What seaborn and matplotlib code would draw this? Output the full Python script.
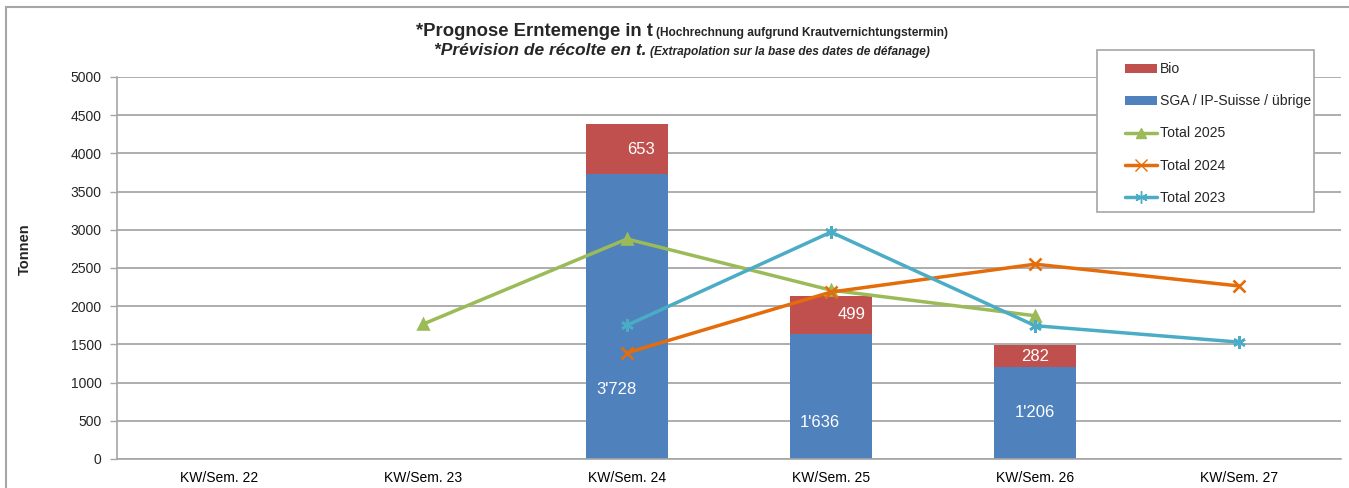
import numpy as np
import pandas as pd
import matplotlib
matplotlib.use("Agg")
import matplotlib.pyplot as plt
from matplotlib.lines import Line2D
from matplotlib.patches import Patch, Rectangle
import seaborn as sns

wochen = ["KW/Sem. 22", "KW/Sem. 23", "KW/Sem. 24", "KW/Sem. 25", "KW/Sem. 26", "KW/Sem. 27"]
sga = [np.nan, np.nan, 3728, 1636, 1206, np.nan]
bio = [np.nan, np.nan, 653, 499, 282, np.nan]
total_2025 = [np.nan, 1765, 2880, 2210, 1875, np.nan]
total_2024 = [np.nan, np.nan, 1390, 2185, 2550, 2265]
total_2023 = [np.nan, np.nan, 1750, 2970, 1745, 1530]
sga_labels = ["", "", "3'728", "1'636", "1'206", ""]
bio_labels = ["", "", "653", "499", "282", ""]

ROT = "#C0504D"
BLAU = "#4F81BD"
GRUEN = "#9BBB59"
ORANGE = "#E46C0A"
TUERKIS = "#4BACC6"
GRAU = "#A6A6A6"

sns.set_theme(style="white")
plt.rcParams["font.family"] = ["Liberation Sans", "DejaVu Sans"]

df = pd.DataFrame({"woche": wochen, "sga": sga, "bio": bio,
                   "t2025": total_2025, "t2024": total_2024, "t2023": total_2023})
df["summe"] = df["sga"] + df["bio"]

fig = plt.figure(figsize=(13.49, 4.88), dpi=100)
W, H = 1349, 488
ax = fig.add_axes([117 / W, 1 - 459 / H, (1341 - 117) / W, (459 - 77) / H])

# Rahmen um das ganze Diagramm
fig.patches.append(Rectangle((6 / W, -0.1), 1.2, 1 - 7 / H + 0.1, transform=fig.transFigure,
                             fill=False, edgecolor=GRAU, linewidth=1.5, zorder=0))

# gestapelte Balken
sns.barplot(data=df, x="woche", y="summe", order=wochen, color=ROT, saturation=1,
            width=0.4, errorbar=None, ax=ax, zorder=2, linewidth=0)
sns.barplot(data=df, x="woche", y="sga", order=wochen, color=BLAU, saturation=1,
            width=0.4, errorbar=None, ax=ax, zorder=2, linewidth=0)

# Linien
for spalte, farbe, marker, ms in [("t2025", GRUEN, "^", 7),
                                   ("t2024", ORANGE, "x", 8),
                                   ("t2023", TUERKIS, (6, 2, 0), 9)]:
    sub = df.dropna(subset=[spalte])
    sns.pointplot(data=sub, x="woche", y=spalte, order=wochen, color=farbe,
                  markers=marker, markersize=ms, linewidth=2.5, errorbar=None,
                  ax=ax, zorder=4)

# Beschriftungen (Lage wie im Original von Hand verschoben)
sga_dx = [0, 0, -0.05, -0.055, 0, 0]
sga_frac = [0, 0, 0.245, 0.29, 0.5, 0]
bio_dx = [0, 0, 0.07, 0.1, 0, 0]
for i in range(len(wochen)):
    if sga_labels[i]:
        ax.text(i + sga_dx[i], sga[i] * sga_frac[i], sga_labels[i], color="white",
                fontsize=12, ha="center", va="center", zorder=5)
    if bio_labels[i]:
        ax.text(i + bio_dx[i], sga[i] + bio[i] / 2, bio_labels[i], color="white",
                fontsize=12, ha="center", va="center", zorder=5)

ax.set_ylim(0, 5000)
ax.set_xlim(-0.5, 5.5)
ax.set_yticks(np.arange(0, 5001, 500))
ax.set_xticks(range(len(wochen)))
ax.set_xticklabels(wochen)
ax.set_xticks(np.arange(-0.5, 6, 1), minor=True)
ax.tick_params(axis="x", which="major", length=0, labelsize=10, pad=9, colors="#000000")
ax.tick_params(axis="x", which="minor", length=5, width=1, color=GRAU, direction="out")
ax.tick_params(axis="y", length=5, width=1, color=GRAU, direction="out", labelsize=10, pad=6)
ax.tick_params(axis="both", bottom=True, left=True)
ax.grid(axis="y", color="#A0A0A0", linewidth=1.2, zorder=0)
ax.set_axisbelow(True)
for s in ["top", "right"]:
    ax.spines[s].set_visible(False)
for s in ["left", "bottom"]:
    ax.spines[s].set_color(GRAU)
    ax.spines[s].set_linewidth(1.2)
ax.set_xlabel("")
ax.set_ylabel("Tonnen", fontsize=10.5, fontweight="bold")
ax.yaxis.set_label_coords(-(117 - 32) / (1341 - 117), 0.55)

# Titel in zwei Zeilen mit unterschiedlichen Groessen
renderer = fig.canvas.get_renderer()
def titelzeile(y, gross, klein, style, groesse):
    t1 = fig.text(0, y, gross, fontsize=groesse, fontweight="bold", style=style, va="baseline")
    t2 = fig.text(0, y, klein, fontsize=8.6, fontweight="bold", style=style, va="baseline")
    w1 = t1.get_window_extent(renderer).width
    w2 = t2.get_window_extent(renderer).width
    gap = 4
    links = 682 - (w1 + gap + w2) / 2
    t1.set_x(links / W)
    t2.set_x((links + w1 + gap) / W)

titelzeile(1 - 36 / H, "*Prognose Erntemenge in t", "(Hochrechnung aufgrund Krautvernichtungstermin)", "normal", 13.3)
titelzeile(1 - 55 / H, "*Prévision de récolte en t.", "(Extrapolation sur la base des dates de défanage)", "italic", 12.5)

# Legende mit eigenem Rahmen (links mehr Abstand als rechts)
fig.patches.append(Rectangle((1097 / W, 1 - 212 / H), (1314 - 1097) / W, (212 - 50) / H,
                             transform=fig.transFigure, facecolor="white", edgecolor=GRAU,
                             linewidth=1.2, zorder=9))
handles = [Patch(facecolor=ROT, edgecolor="none"),
           Patch(facecolor=BLAU, edgecolor="none"),
           Line2D([], [], color=GRUEN, marker="^", markersize=7, linewidth=2.5),
           Line2D([], [], color=ORANGE, marker="x", markersize=8, linewidth=2.5),
           Line2D([], [], color=TUERKIS, marker=(6, 2, 0), markersize=9, linewidth=2.5)]
labels = ["Bio", "SGA / IP-Suisse / übrige", "Total 2025", "Total 2024", "Total 2023"]
leg = fig.legend(handles, labels, loc="upper left", bbox_to_anchor=(1125 / W, 1 - 62 / H),
                 bbox_transform=fig.transFigure, fontsize=10.1, frameon=False,
                 handlelength=2.3, handleheight=0.6, labelspacing=1.3, borderpad=0,
                 handletextpad=0.2, borderaxespad=0)
leg.set_zorder(10)

fig.savefig("out.png", dpi=100)
